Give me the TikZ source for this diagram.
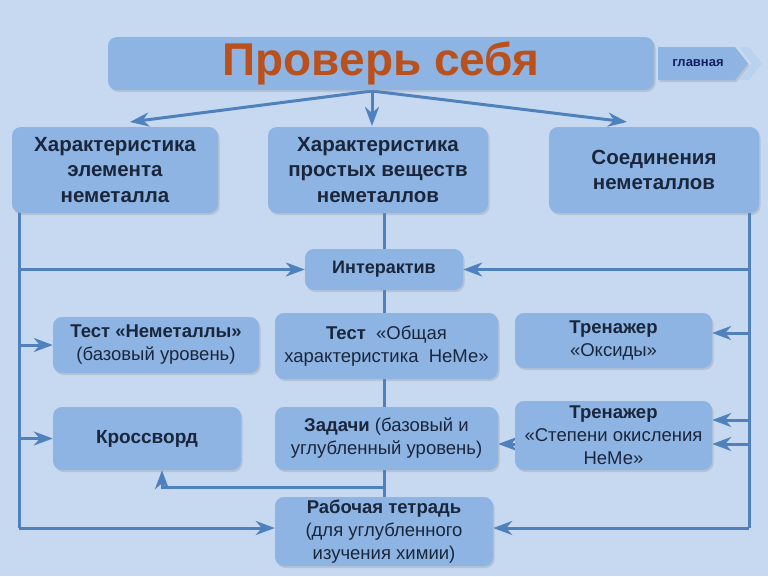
\documentclass[tikz,border=0pt]{standalone}
\usepackage{fontspec}
\setmainfont{Liberation Sans}
\usepackage{tikz}
\usetikzlibrary{shapes,shadows}
\usetikzlibrary{arrows.meta}
\usetikzlibrary{backgrounds}

\definecolor{fonbg}{RGB}{198,217,241}
\definecolor{boxbg}{RGB}{142,180,227}
\definecolor{lineblue}{RGB}{79,129,189}
\definecolor{txtdark}{RGB}{26,38,60}
\definecolor{titlered}{RGB}{186,80,28}

\begin{document}
\begin{tikzpicture}[x=1pt, y=-1pt,
  box/.style={fill=boxbg, rounded corners=9pt, inner sep=0pt, align=center, text=txtdark,
    drop shadow={shadow xshift=1.5pt, shadow yshift=-2pt, opacity=0.25}},
  big/.style={box, font=\fontsize{20.5}{25.5}\selectfont\bfseries},
  small/.style={box, font=\fontsize{18.5}{23}\selectfont},
  ln/.style={draw=lineblue, line width=3pt},
  arr/.style={ln, -{Stealth[length=19pt, width=14pt, inset=6pt]}}]

  \begin{scope}[on background layer]
    \fill[fonbg] (0,0) rectangle (768,576);
  \end{scope}

  % title and home button
  \node[box, minimum width=546pt, minimum height=53pt, text=titlered,
    font=\fontsize{46}{50}\selectfont\bfseries] (title) at (381,63.5) {Проверь себя};
  \fill[boxbg!60!white] (739,47) -- (749,47) -- (762,63.5) -- (749,80) -- (739,80) -- (752,63.5) -- cycle;
  \fill[boxbg, drop shadow={shadow xshift=1.5pt, shadow yshift=-2pt, opacity=0.25}]
    (658,47) -- (735,47) -- (748,63.5) -- (735,80) -- (658,80) -- cycle;
  \node[font=\fontsize{13}{14}\selectfont\bfseries, text=txtdark!80!blue] (home) at (698,63.5) {главная};

  % first row
  \node[big, minimum width=206pt, minimum height=86pt] (elem) at (115,170)
    {Характеристика\\элемента\\неметалла};
  \node[big, minimum width=220pt, minimum height=86pt] (prost) at (378,170)
    {Характеристика\\простых веществ\\неметаллов};
  \node[big, minimum width=210pt, minimum height=86pt] (soed) at (654,170)
    {Соединения\\неметаллов};

  \node[big, font=\fontsize{18}{23}\selectfont\bfseries, minimum width=158pt, minimum height=41pt]
    (inter) at (384,269.5) {Интерактив};

  % second row
  \node[small, minimum width=206pt, minimum height=56pt] (test1) at (156,345)
    {\textbf{Тест «Неметаллы»}\\(базовый уровень)};
  \node[small, minimum width=223pt, minimum height=66pt] (test2) at (386.5,346)
    {\textbf{Тест}\ \ «Общая\\характеристика\ \ НеМе»};
  \node[small, minimum width=197pt, minimum height=55pt] (oks) at (613.5,340.5)
    {\textbf{Тренажер}\\«Оксиды»};

  % third row
  \node[big, font=\fontsize{19}{23}\selectfont\bfseries, minimum width=188pt, minimum height=63pt]
    (kross) at (147,438.5) {Кроссворд};
  \node[small, minimum width=223pt, minimum height=63pt] (zad) at (386.5,438.5)
    {\textbf{Задачи} (базовый и\\углубленный уровень)};
  \node[small, minimum width=197pt, minimum height=69pt] (step) at (613.5,435.5)
    {\textbf{Тренажер}\\«Степени окисления\\НеМе»};

  \node[small, minimum width=218pt, minimum height=69pt] (rab) at (384,531.5)
    {\textbf{Рабочая тетрадь}\\(для углубленного\\изучения химии)};

  \coordinate (top) at (372,91);
  \coordinate (tA) at (130,122);
  \coordinate (tB) at (372,126);
  \coordinate (tC) at (627,122);
  \coordinate (L1) at (19,212);
  \coordinate (L2) at (19,528);
  \coordinate (R1) at (749,212);
  \coordinate (R2) at (749,528);
  \coordinate (kr) at (162,487);

  \begin{scope}[on background layer]
    \draw[arr] (top) -- (tA);
    \draw[arr] (top) -- (tB);
    \draw[arr] (top) -- (tC);

    % left side
    \draw[ln] (L1) -- (L2);
    \draw[arr] (L1 |- inter) -- (inter.west);
    \draw[arr] (L1 |- test1) -- (test1.west);
    \draw[arr] (L1 |- kross) -- (kross.west);
    \draw[arr] (L2) -- (L2 -| rab.west);

    % right side
    \draw[ln] (R1) -- (R2);
    \draw[arr] (R1 |- inter) -- (inter.east);
    \draw[arr] ([yshift=7.5pt]oks.east -| R1) -- ([yshift=7.5pt]oks.east);
    \draw[arr] ([yshift=15.5pt]step.east -| R1) -- ([yshift=15.5pt]step.east);
    \draw[arr] ([yshift=-8.5pt]step.east -| R1) -- ([yshift=-8.5pt]step.east);
    \draw[arr] (R2) -- (R2 -| rab.east);
    \draw[arr] ([yshift=-8.5pt]step.west) -- ([yshift=-8.5pt]step.west -| zad.east);

    % middle
    \draw[ln] (prost.south -| inter) -- (rab.north -| inter);
    \draw[arr] (kr -| inter) -- (kr) -- (kr |- kross.south);
  \end{scope}
\end{tikzpicture}
\end{document}
